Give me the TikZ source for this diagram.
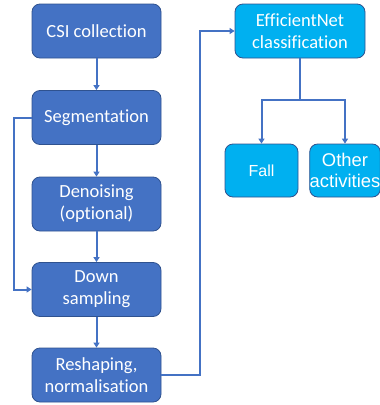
\documentclass[tikz,border=0pt]{standalone}
\usepackage{fontspec}
\setmainfont[Ligatures=NoCommon]{Carlito}
\newfontfamily\arialfont{Liberation Sans}
\usetikzlibrary{arrows.meta}
\definecolor{boxblue}{HTML}{4472C4}
\definecolor{boxedge}{HTML}{2F528F}
\definecolor{boxcyan}{HTML}{00B0F0}
\tikzset{
  stepbox/.style={draw=boxedge, line width=0.8pt, fill=boxblue, rounded corners=8pt,
    text=white, align=center, minimum width=129pt, minimum height=54pt, inner sep=0pt,
    font=\fontsize{18.5}{22}\selectfont},
  classbox/.style={stepbox, fill=boxcyan},
  outbox/.style={classbox, minimum width=73pt, minimum height=53pt, font=\arialfont\fontsize{18.4}{21}\selectfont},
  flow/.style={draw=boxblue, line width=2pt, -{Triangle[width=6pt,length=5pt]}},
}
\begin{document}
\begin{tikzpicture}[x=1pt,y=-1pt]
\useasboundingbox (0,0) rectangle (380,405);
\clip (0,0) rectangle (380,405);
\node[stepbox] (csi) at (96.5,31) {CSI collection};
\node[stepbox] (seg) at (96.5,117.5) {Segmentation};
\node[stepbox] (den) at (96.5,204) {Denoising\\(optional)};
\node[stepbox] (down) at (96.5,289.5) {Down\\sampling};
\node[stepbox] (resh) at (96.5,375) {Reshaping,\\normalisation};
\node[classbox, minimum width=130pt] (eff) at (300,31) {EfficientNet\\classification};
\node[outbox, font=\arialfont\fontsize{16}{19}\selectfont] (fall) at (261.5,170.5) {Fall};
\node[outbox, minimum width=70pt] (other) at (345,170.5) {Other\\activities};
\draw[flow] (csi) -- (seg);
\draw[flow] (seg) -- (den);
\draw[flow] (den) -- (down);
\draw[flow] (down) -- (resh);
\draw[flow] (seg.west) -- ++(-18,0) |- (down.west);
\draw[flow] (resh.east) -- ++(39,0) |- (eff.west);
\draw[draw=boxblue, line width=2pt] (eff.south) -- ++(0,42) coordinate (br);
\draw[flow] (br) -| (fall.north);
\draw[flow] (br) -| (other.north);
\end{tikzpicture}
\end{document}
